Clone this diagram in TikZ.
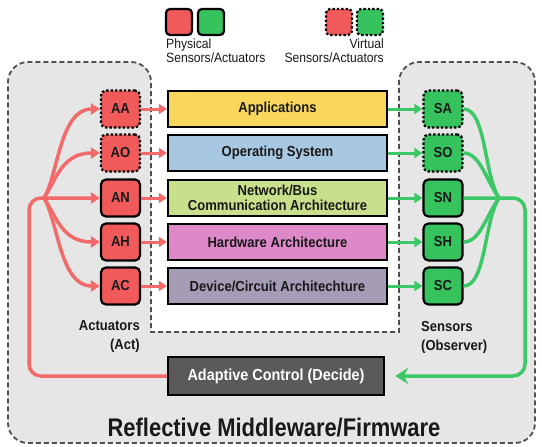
\documentclass[tikz,border=0pt]{standalone}
\usepackage{fontspec}
\setmainfont{Liberation Sans}
\newfontfamily\cond{Liberation Sans}[FakeStretch=0.9]
\newfontfamily\condn{Liberation Sans}[FakeStretch=0.86]
\usetikzlibrary{arrows.meta}
\definecolor{bgray}{HTML}{E6E6E6}
\definecolor{redA}{HTML}{F05A5A}
\definecolor{redL}{HTML}{F26A6A}
\definecolor{grnA}{HTML}{36C35E}
\definecolor{grnL}{HTML}{3CC866}
\definecolor{appY}{HTML}{F9D65C}
\definecolor{osB}{HTML}{A8C8E2}
\definecolor{netG}{HTML}{C8E08C}
\definecolor{hwP}{HTML}{DD88C9}
\definecolor{devP}{HTML}{A79CB6}
\definecolor{ctlG}{HTML}{5A5A5A}
\definecolor{dashG}{HTML}{505050}
\tikzset{
  layer/.style={draw=black, line width=2.2pt, minimum width=219pt, minimum height=36pt, inner sep=0pt,
    font=\cond\bfseries\fontsize{14.5}{15}\selectfont, align=center, text=black!90},
  sabox/.style={draw=black, line width=2.2pt, rounded corners=5pt, minimum width=39pt, minimum height=37pt,
    inner sep=0pt, font=\cond\bfseries\fontsize{14.5}{15}\selectfont, text=black!90},
  actbox/.style={sabox, fill=redA},
  senbox/.style={sabox, fill=grnA},
  virtual/.style={dash pattern=on 2.4pt off 2pt},
  legbox/.style={draw=black, line width=2.2pt, rounded corners=4pt, minimum width=26pt, minimum height=26pt, inner sep=0pt},
  redarr/.style={draw=redL, line width=3pt, -{Triangle[length=8pt,width=10pt]}},
  grnarr/.style={draw=grnL, line width=3pt, -{Triangle[length=8pt,width=10pt]}},
  redfan/.style={draw=redL, line width=3.5pt},
  grnfan/.style={draw=grnL, line width=3.5pt},
  lab/.style={font=\cond\bfseries\fontsize{14.5}{19}\selectfont, text=black!90, inner sep=0pt},
  legtext/.style={font=\cond\fontsize{13.5}{13.5}\selectfont, text=black!90, inner sep=0pt},
}
\begin{document}
\begin{tikzpicture}[x=1pt,y=-1pt]
\useasboundingbox (0,0) rectangle (542,447);
% region
\draw[fill=bgray, draw=dashG, line width=1.8pt, dash pattern=on 5pt off 3pt]
  (275,332) -- (151,332) [rounded corners=20pt] -- (151,62) -- (8,62) -- (8,443) -- (535,443) -- (535,62) -- (399,62) [sharp corners] -- (399,332) -- cycle;
% legend
\node[legbox, fill=redA] (lr) at (179,22) {};
\node[legbox, fill=grnA] (lg) at (211,22) {};
\node[legbox, virtual, fill=redA] (vr) at (339,22) {};
\node[legbox, virtual, fill=grnA] (vg) at (370,22) {};
\node[legtext, anchor=north west, align=left] (phys) at (166,39) {Physical\\Sensors/Actuators};
\node[legtext, anchor=north east, align=right] (virt) at (384,39) {Virtual\\Sensors/Actuators};
% layers
\node[layer, fill=appY] (app) at (277.5,109) {Applications};
\node[layer, fill=osB] (os) at (277.5,153) {Operating System};
\node[layer, fill=netG] (net) at (277.5,198) {Network/Bus\\Communication Architecture};
\node[layer, fill=hwP] (hw) at (277.5,242) {Hardware Architecture};
\node[layer, fill=devP] (dev) at (277.5,286) {Device/Circuit Architechture};
% actuators
\node[actbox, virtual] (aa) at (120.5,109) {AA};
\node[actbox, virtual] (ao) at (120.5,153) {AO};
\node[actbox] (an) at (120.5,198) {AN};
\node[actbox] (ah) at (120.5,242) {AH};
\node[actbox] (ac) at (120.5,286) {AC};
% sensors
\node[senbox, virtual] (sa) at (443,109) {SA};
\node[senbox, virtual] (so) at (443,153) {SO};
\node[senbox] (sn) at (443,198) {SN};
\node[senbox] (sh) at (443,242) {SH};
\node[senbox] (sc) at (443,286) {SC};
% control
\node[draw=black, line width=2.2pt, fill=ctlG, minimum width=216pt, minimum height=38pt, inner sep=0pt,
  font=\cond\bfseries\fontsize{16}{16}\selectfont, text=white] (ctl) at (276,376) {Adaptive Control (Decide)};
% labels
\node[lab, anchor=east, align=right] (actlab) at (140,337) {Actuators\\(Act)};
\node[lab, anchor=west, align=left] (senlab) at (421,337) {Sensors\\(Observer)};
\node[font=\condn\bfseries\fontsize{25.5}{26}\selectfont, text=black!90] (title) at (274,428) {Reflective Middleware/Firmware};
% actuator -> layer arrows
\foreach \a/\l in {aa/app, ao/os, an/net, ah/hw, ac/dev}
  \draw[redarr] (\a.east) -- (\l.west);
\foreach \l/\s in {app/sa, os/so, net/sn, hw/sh, dev/sc}
  \draw[grnarr] (\l.east) -- (\s.west);
% red feedback
\coordinate (F) at (44,198);
\draw[redfan, -{Triangle[length=9pt,width=11pt]}, rounded corners=12pt] (ctl.west) -- (29,376) -- (29,198) -- (an.west);
\draw[redfan, -{Triangle[length=9pt,width=11pt]}] (F) .. controls (58,175) and (60,109) .. (aa.west);
\draw[redfan, -{Triangle[length=9pt,width=11pt]}] (F) .. controls (56,180) and (62,153) .. (ao.west);
\draw[redfan, -{Triangle[length=9pt,width=11pt]}] (F) .. controls (56,216) and (62,242) .. (ah.west);
\draw[redfan, -{Triangle[length=9pt,width=11pt]}] (F) .. controls (58,221) and (60,286) .. (ac.west);
% green feedback
\coordinate (G) at (499,198);
\draw[grnfan, -{Stealth[length=13pt,width=16pt]}, rounded corners=12pt, shorten >=10pt] (sn.east) -- (525,198) -- (525,376) -- (ctl.east);
\draw[grnfan] (sa.east) .. controls (486,109) and (484,175) .. (G);
\draw[grnfan] (so.east) .. controls (480,153) and (486,180) .. (G);
\draw[grnfan] (sh.east) .. controls (480,242) and (486,216) .. (G);
\draw[grnfan] (sc.east) .. controls (486,286) and (484,221) .. (G);
\end{tikzpicture}
\end{document}
